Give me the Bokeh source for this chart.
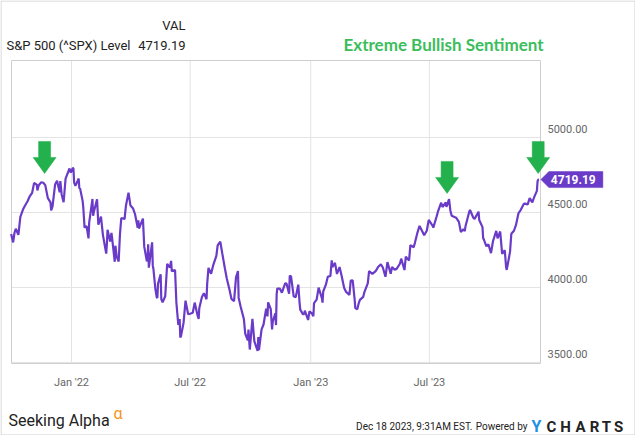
import datetime as dt
import numpy as np
from bokeh.plotting import figure
from bokeh.models import Range1d
from bokeh.core.properties import value
from bokeh.embed import file_html
from bokeh.resources import INLINE

# ---------------- data (S&P 500 level) ----------------
dates = [
 "2021-10-01","2021-10-04","2021-10-06","2021-10-08","2021-10-12","2021-10-15","2021-10-19","2021-10-22",
 "2021-10-26","2021-10-29","2021-11-02","2021-11-05","2021-11-09","2021-11-10","2021-11-12","2021-11-16",
 "2021-11-19","2021-11-22","2021-11-26","2021-11-30","2021-12-01","2021-12-03","2021-12-07","2021-12-10",
 "2021-12-14","2021-12-15","2021-12-17","2021-12-20","2021-12-23","2021-12-29","2021-12-31",
 "2022-01-03","2022-01-04","2022-01-05","2022-01-07","2022-01-12","2022-01-13","2022-01-14","2022-01-18",
 "2022-01-19","2022-01-21","2022-01-24","2022-01-27","2022-01-28","2022-02-02","2022-02-03","2022-02-04",
 "2022-02-09","2022-02-10","2022-02-11","2022-02-15","2022-02-18","2022-02-23","2022-02-24","2022-02-25",
 "2022-03-01","2022-03-03","2022-03-04","2022-03-08","2022-03-09","2022-03-11","2022-03-14","2022-03-16",
 "2022-03-18","2022-03-23","2022-03-25","2022-03-29","2022-04-01","2022-04-05","2022-04-08","2022-04-12",
 "2022-04-13","2022-04-14","2022-04-20","2022-04-22","2022-04-26","2022-04-27","2022-04-28","2022-04-29",
 "2022-05-04","2022-05-05","2022-05-06","2022-05-09","2022-05-11","2022-05-12","2022-05-13","2022-05-17",
 "2022-05-18","2022-05-20","2022-05-24","2022-05-27","2022-05-31","2022-06-02","2022-06-03","2022-06-08",
 "2022-06-10","2022-06-13","2022-06-15","2022-06-16","2022-06-17","2022-06-21","2022-06-24","2022-06-28",
 "2022-07-01","2022-07-05","2022-07-08","2022-07-12","2022-07-14","2022-07-15","2022-07-19","2022-07-22",
 "2022-07-26","2022-07-27","2022-07-29","2022-08-02","2022-08-05","2022-08-10","2022-08-12","2022-08-16",
 "2022-08-19","2022-08-23","2022-08-26","2022-08-30","2022-09-02","2022-09-06","2022-09-09","2022-09-12",
 "2022-09-13","2022-09-16","2022-09-21","2022-09-23","2022-09-27","2022-09-28","2022-09-30","2022-10-04",
 "2022-10-07","2022-10-12","2022-10-13","2022-10-14","2022-10-18","2022-10-21","2022-10-25","2022-10-27",
 "2022-10-28","2022-11-01","2022-11-03","2022-11-04","2022-11-08","2022-11-09","2022-11-10","2022-11-11",
 "2022-11-15","2022-11-18","2022-11-23","2022-11-25","2022-11-29","2022-11-30","2022-12-02","2022-12-06",
 "2022-12-09","2022-12-13","2022-12-15","2022-12-16","2022-12-20","2022-12-22","2022-12-23","2022-12-28",
 "2022-12-30",
 "2023-01-03","2023-01-05","2023-01-06","2023-01-10","2023-01-13","2023-01-18","2023-01-19","2023-01-20",
 "2023-01-24","2023-01-27","2023-01-31","2023-02-02","2023-02-03","2023-02-07","2023-02-10","2023-02-14",
 "2023-02-17","2023-02-21","2023-02-24","2023-03-01","2023-03-03","2023-03-06","2023-03-09","2023-03-10",
 "2023-03-13","2023-03-15","2023-03-17","2023-03-22","2023-03-24","2023-03-29","2023-03-31","2023-04-05",
 "2023-04-10","2023-04-14","2023-04-18","2023-04-21","2023-04-25","2023-04-28","2023-05-03","2023-05-05",
 "2023-05-09","2023-05-12","2023-05-17","2023-05-19","2023-05-24","2023-05-26","2023-05-31","2023-06-02",
 "2023-06-07","2023-06-09","2023-06-13","2023-06-16","2023-06-21","2023-06-23","2023-06-27","2023-06-30",
 "2023-07-06","2023-07-07","2023-07-12","2023-07-14","2023-07-19","2023-07-21","2023-07-26","2023-07-27",
 "2023-07-31","2023-08-02","2023-08-04","2023-08-09","2023-08-11","2023-08-15","2023-08-18","2023-08-22",
 "2023-08-24","2023-08-25","2023-08-31","2023-09-01","2023-09-06","2023-09-08","2023-09-14","2023-09-15",
 "2023-09-20","2023-09-21","2023-09-22","2023-09-26","2023-09-29","2023-10-03","2023-10-06","2023-10-11",
 "2023-10-13","2023-10-17","2023-10-20","2023-10-24","2023-10-26","2023-10-27","2023-11-01","2023-11-03",
 "2023-11-07","2023-11-10","2023-11-14","2023-11-17","2023-11-22","2023-11-24","2023-11-28","2023-12-01",
 "2023-12-05","2023-12-08","2023-12-12","2023-12-13","2023-12-14","2023-12-15",
]
closes = [
 4357,4300,4363,4391,4351,4471,4519,4545,
 4575,4605,4631,4697,4685,4647,4682,4701,
 4698,4682,4595,4567,4513,4538,4686,4712,
 4634,4709,4620,4568,4726,4793,4766,
 4797,4793,4701,4677,4726,4660,4662,4577,
 4533,4398,4410,4327,4432,4590,4478,4501,
 4588,4504,4419,4472,4349,4226,4289,4385,
 4306,4363,4329,4171,4278,4204,4173,4358,
 4463,4456,4543,4632,4546,4526,4488,4397,
 4447,4393,4459,4272,4175,4184,4288,4132,
 4301,4147,4123,3991,3935,3930,4024,4088,
 3923,3901,3941,4158,4132,4177,4109,4116,
 3901,3750,3790,3667,3675,3765,3912,3821,
 3825,3831,3899,3819,3790,3863,3937,3962,
 3921,4024,4130,4091,4145,4210,4280,4305,
 4228,4128,4058,3986,3924,3909,4067,4110,
 3932,3873,3790,3693,3647,3719,3586,3791,
 3640,3577,3670,3583,3720,3753,3859,3807,
 3901,3856,3720,3771,3828,3749,3956,3993,
 3992,3965,4028,4026,3958,4080,4072,3941,
 3934,4019,3896,3852,3822,3822,3845,3783,
 3840,
 3825,3808,3895,3919,3999,3929,3899,3973,
 4017,4071,4077,4180,4136,4164,4090,4136,
 4079,3997,3970,3951,4046,4048,3919,3862,
 3855,3892,3917,3937,3971,4027,4109,4090,
 4109,4138,4154,4133,4071,4169,4091,4136,
 4119,4124,4158,4192,4116,4205,4180,4282,
 4268,4299,4369,4410,4366,4348,4378,4450,
 4411,4399,4473,4505,4565,4536,4567,4537,
 4589,4513,4478,4468,4464,4437,4370,4388,
 4376,4406,4508,4516,4465,4457,4505,4450,
 4402,4330,4320,4274,4288,4229,4308,4377,
 4327,4373,4224,4248,4137,4117,4237,4358,
 4378,4415,4496,4514,4557,4559,4554,4595,
 4567,4604,4644,4707,4719.55,4719.19,
]
y_ticks = [3500, 4000, 4500, 5000]
y_tick_labels = ["3500.00", "4000.00", "4500.00", "5000.00"]
x_tick_dates = ["2022-01-01", "2022-07-01", "2023-01-01", "2023-07-01"]
x_tick_labels = ["Jan '22", "Jul '22", "Jan '23", "Jul '23"]
arrow_dates = ["2021-11-21", "2023-07-28", "2023-12-14"]
arrow_values = [4760, 4627, 4760]

# ---------------- layout constants ----------------
W, H = 635, 435
FL, FR, FT, FB = 11, 540, 60, 363          # plot area in pixels
X0 = dt.datetime(2021, 10, 1, 12)           # value at left edge of plot area
X1 = dt.datetime(2023, 12, 17, 12)          # value at right edge
Y0, Y1 = 3493, 5513                         # values at bottom / top edge
PURPLE = "#6a3bc8"
GREEN = "#22b14c"
GRID = "#e3e3e3"

ms_per_px = (X1 - X0).total_seconds() * 1000 / (FR - FL)
val_per_px = (Y1 - Y0) / (FB - FT)
xr = Range1d(X0 - dt.timedelta(milliseconds=FL * ms_per_px),
             X1 + dt.timedelta(milliseconds=(W - FR) * ms_per_px))
yr = Range1d(Y0 - (H - FB) * val_per_px, Y1 + FT * val_per_px)

x = np.array(dates, dtype="datetime64[ms]")
y = np.array(closes, dtype=float)
tx = np.array(x_tick_dates, dtype="datetime64[ms]")
t0 = np.datetime64(X0, "ms")
t1 = np.datetime64(X1, "ms")

p = figure(width=W, height=H, x_axis_type="datetime", x_range=xr, y_range=yr,
           x_axis_location=None, y_axis_location=None,
           output_backend="svg", toolbar_location=None,
           min_border=0, min_border_left=0, min_border_right=0,
           min_border_top=0, min_border_bottom=0)
p.extra_x_ranges = {"px": Range1d(0, W)}
p.extra_y_ranges = {"px": Range1d(H, 0)}
p.background_fill_color = "white"
p.border_fill_color = "white"
p.outline_line_color = None
p.grid.visible = False

# grid lines inside the plot area
p.segment(x0=tx, x1=tx, y0=[Y0] * len(tx), y1=[Y1] * len(tx), line_color=GRID, line_width=1)
p.segment(x0=[t0] * len(y_ticks), x1=[t1] * len(y_ticks), y0=y_ticks, y1=y_ticks,
          line_color=GRID, line_width=1)
# plot-area border
p.quad(left=[t0], right=[t1], bottom=[Y0], top=[Y1], fill_color=None,
       line_color="#cfcfcf", line_width=1)

# tick labels
p.text(x=tx, y=[382] * len(tx), text=x_tick_labels, y_range_name="px",
       text_font=value("Roboto"), text_font_size="11px", text_color="#666666",
       text_align="center", text_baseline="middle")
p.text(x=[547] * len(y_ticks), y=y_ticks, text=y_tick_labels, x_range_name="px",
       text_font=value("Roboto"), text_font_size="11px", text_color="#666666",
       text_align="left", text_baseline="middle", y_offset=-8)

# the series
p.line(x, y, line_color=PURPLE, line_width=2.2)

def dx(px, base):
    return base + px * ms_per_px

def dy(px, base):
    return base + px * val_per_px

# green arrows
arrow_shape = [(0, 0), (-11.5, 16), (-6, 16), (-6, 32), (6, 32), (6, 16), (11.5, 16)]
axs, ays = [], []
for d, v in zip(arrow_dates, arrow_values):
    t = float(np.datetime64(d, "ms").astype("int64"))
    axs.append([dx(a, t) for a, b in arrow_shape])
    ays.append([dy(b, v) for a, b in arrow_shape])
p.patches(xs=axs, ys=ays, fill_color=GREEN, line_color=GREEN, line_width=0.5)

# last value tag
lt = float(x[-1].astype("int64"))
lv = closes[-1]
tag = [(2, 0), (10, 8), (64, 8), (64, -8), (10, -8)]
p.patch(x=[dx(a, lt) for a, b in tag], y=[dy(b, lv) for a, b in tag],
        fill_color=PURPLE, line_color=PURPLE, line_width=0.5)
p.text(x=[lt], y=[lv], text=[f"{lv:.2f}"], x_offset=12, text_color="white",
       text_font=value("Roboto"), text_font_style="bold", text_font_size="12px",
       text_baseline="middle", text_align="left")

def lab(px, py, text, size, color, font="Roboto", style="normal", align="left", baseline="middle"):
    p.text(x=[px], y=[py], text=[text], x_range_name="px", y_range_name="px",
           text_font=value(font), text_font_size=size, text_color=color,
           text_font_style=style, text_align=align, text_baseline=baseline)

# header
lab(185, 25, "VAL", "13px", "#222222", align="right")
lab(6, 45, "S&P 500 (^SPX) Level", "13px", "#222222")
lab(185, 45, f"{lv:.2f}", "13px", "#222222", align="right")
lab(343, 44, "Extreme Bullish Sentiment", "17px", "#3cbd5c", font="Lato", style="bold")

# footer
lab(8, 420, "Seeking Alpha", "16px", "#222222", baseline="alphabetic")
lab(113, 413, "\u03b1", "16px", "#f7931e", baseline="alphabetic")
lab(472, 426, "Dec 18 2023, 9:31AM EST.", "10px", "#222222", align="right", baseline="alphabetic")
lab(527, 426, "Powered by", "10px", "#222222", align="right", baseline="alphabetic")
logo_letters = ["Y", "C", "H", "A", "R", "T", "S"]
logo_x = [536, 551, 565, 580, 594, 606, 618]
for ch, cx in zip(logo_letters, logo_x):
    lab(cx, 426, ch, "16px" if ch == "Y" else "15px", "#1e90e6" if ch == "Y" else "#222222",
        style="bold", align="center", baseline="alphabetic")

# outer border of the image
p.quad(left=[0.5], right=[W - 0.5], top=[0.5], bottom=[H - 0.5], x_range_name="px",
       y_range_name="px", fill_color=None, line_color="#cfcfcf", line_width=1)

open("out.html", "w").write(file_html(p, INLINE))
